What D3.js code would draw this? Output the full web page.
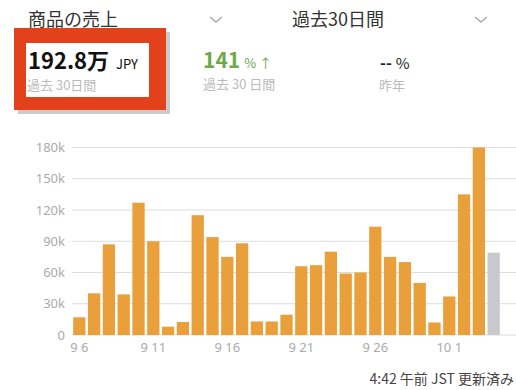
<!DOCTYPE html>
<html>
<head>
<meta charset="utf-8">
<script src="https://cdn.jsdelivr.net/npm/d3@7"></script>
<style>
  body { margin: 0; background: #fff; }
  svg { display: block; font-family: "Noto Sans CJK JP", "Noto Sans", sans-serif; }
</style>
</head>
<body>
<svg id="chart" width="516" height="390"></svg>
<script>
// Daily sales, 9/6 .. 10/4 (last day still in progress)
var days = ['9 6','9 7','9 8','9 9','9 10','9 11','9 12','9 13','9 14','9 15',
            '9 16','9 17','9 18','9 19','9 20','9 21','9 22','9 23','9 24','9 25',
            '9 26','9 27','9 28','9 29','9 30','10 1','10 2','10 3','10 4'];
var sales = [17000, 40000, 87000, 39000, 127000, 90000, 8000, 12500, 115000, 94000,
             75000, 88000, 13000, 13000, 19500, 66000, 67000, 80000, 59000, 60000,
             104000, 75000, 70000, 50000, 12000, 37000, 135000, 180000, 79000];
var yTicks = [0, 30000, 60000, 90000, 120000, 150000, 180000];
var xTickDays = ['9 6', '9 11', '9 16', '9 21', '9 26', '10 1'];

var svg = d3.select('#chart');

// ---- header ----
svg.append('text').attr('x', 28).attr('y', 26)
    .attr('font-size', 18).attr('fill', '#333').text('商品の売上');
svg.append('text').attr('x', 292).attr('y', 26)
    .attr('font-size', 18).attr('fill', '#333').text('過去30日間');

function chevron(cx) {
    svg.append('path')
        .attr('d', `M${cx - 6},17 L${cx},22 L${cx + 6},17`)
        .attr('fill', 'none').attr('stroke', '#aaa').attr('stroke-width', 1.5);
}
chevron(216);
chevron(481);

// ---- red highlight box ----
svg.append('rect').attr('x', 18).attr('y', 32).attr('width', 152).attr('height', 82)
    .attr('fill', '#555').attr('opacity', 0.3);
svg.append('rect').attr('x', 14).attr('y', 28).attr('width', 152).attr('height', 82)
    .attr('fill', '#e3401c');
svg.append('rect').attr('x', 26).attr('y', 43).attr('width', 123).attr('height', 54)
    .attr('fill', '#fff');

// ---- stats ----
var total = svg.append('text').attr('x', 28).attr('y', 69).attr('fill', '#111');
total.append('tspan').attr('font-size', 22).attr('font-weight', 'bold').text('192.8万');
total.append('tspan').attr('dx', 7).attr('font-size', 13).text('JPY');
svg.append('text').attr('x', 27).attr('y', 90).attr('font-size', 13)
    .attr('fill', '#bbb').text('過去 30日間');

var growth = svg.append('text').attr('x', 203).attr('y', 68).attr('fill', '#6fa84a');
growth.append('tspan').attr('font-size', 21).attr('font-weight', 'bold').text('141');
growth.append('tspan').attr('dx', 4).attr('font-size', 13).text('% ↑');
svg.append('text').attr('x', 203).attr('y', 89).attr('font-size', 13)
    .attr('fill', '#bbb').text('過去 30 日間');

var yoy = svg.append('text').attr('x', 380).attr('y', 69).attr('fill', '#222');
yoy.append('tspan').attr('font-size', 16).attr('font-weight', 'bold').text('--');
yoy.append('tspan').attr('dx', 4).attr('font-size', 15).text('%');
svg.append('text').attr('x', 379).attr('y', 90).attr('font-size', 13)
    .attr('fill', '#bbb').text('昨年');

// ---- chart ----
var x = d3.scaleBand()
    .domain(days)
    .range([72, 501])
    .paddingInner(0.17)
    .paddingOuter(0.08);

var y = d3.scaleLinear()
    .domain([0, 180000])
    .range([335, 147.5]);

// gridlines
svg.append('g')
    .selectAll('line')
    .data(yTicks)
    .join('line')
    .attr('x1', 72).attr('x2', 516)
    .attr('y1', d => y(d)).attr('y2', d => y(d))
    .attr('stroke', '#ddd').attr('stroke-width', 1.2);

// y labels
var yAxis = svg.append('g')
    .attr('transform', 'translate(65,0)')
    .call(d3.axisLeft(y).tickValues(yTicks).tickSize(0).tickPadding(0)
        .tickFormat(d => d === 0 ? '0' : (d / 1000) + 'k'));
yAxis.select('.domain').remove();
yAxis.selectAll('text')
    .attr('font-size', 13).attr('fill', '#aaa')
    .attr('font-family', '"Noto Sans", sans-serif');

// bars
svg.append('g')
    .selectAll('rect')
    .data(sales)
    .join('rect')
    .attr('x', (d, i) => x(days[i]))
    .attr('y', d => y(d))
    .attr('width', x.bandwidth())
    .attr('height', d => y(0) - y(d))
    .attr('fill', (d, i) => i === days.length - 1 ? '#c8c8cd' : '#e9a03a');

// x labels
var xAxis = svg.append('g')
    .attr('transform', 'translate(0,343)')
    .call(d3.axisBottom(x).tickValues(xTickDays).tickSize(0).tickPadding(0));
xAxis.select('.domain').remove();
xAxis.selectAll('text')
    .attr('font-size', 13).attr('fill', '#aaa')
    .attr('font-family', '"Noto Sans", sans-serif');

// footer
svg.append('text').attr('x', 514).attr('y', 384).attr('font-size', 14)
    .attr('text-anchor', 'end')
    .attr('fill', '#444').text('4:42 午前 JST 更新済み');
</script>
</body>
</html>
